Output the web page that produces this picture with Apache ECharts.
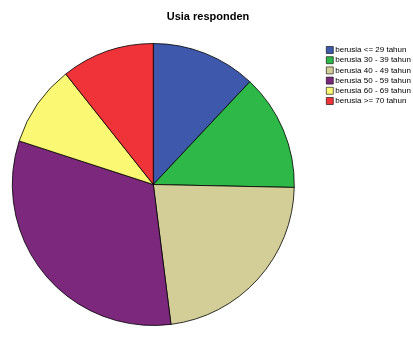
<!DOCTYPE html>
<html><head><meta charset="utf-8">
<script src="https://cdn.jsdelivr.net/npm/echarts@6/dist/echarts.min.js"></script>
<style>html,body{margin:0;padding:0;background:#fff}#c{width:413px;height:338px}</style>
</head><body><div id="c"></div>
<script>
var categories = ['berusia <= 29 tahun','berusia 30 - 39 tahun','berusia 40 - 49 tahun','berusia 50 - 59 tahun','berusia 60 - 69 tahun','berusia >= 70 tahun'];
var values = [9, 10, 17, 24, 7, 8];
var colors = ['#3E58AC','#2EB848','#D3CE97','#7C287D','#FBF873','#EF3338'];
var chart = echarts.init(document.getElementById('c'), null, {renderer:'canvas'});
chart.setOption({
  animation:false,
  title:{text:'Usia responden', left:203, top:6, padding:[5,5,5,5], textAlign:'center',
    textStyle:{fontFamily:'Liberation Sans, Arial', fontSize:11, fontWeight:'bold', color:'#000'}},
  legend:{orient:'vertical', left:326, top:46, padding:0, itemWidth:7, itemHeight:7, itemGap:2.2,
    icon:'rect', data:categories,
    textStyle:{fontFamily:'Liberation Sans, Arial', fontSize:8, color:'#000', lineHeight:8, padding:[0,0,0,-3]},
    itemStyle:{borderColor:'#000', borderWidth:0.6}},
  series:[{type:'pie', center:[153.3,184.5], radius:[0,141], startAngle:90, clockwise:true,
    label:{show:false}, labelLine:{show:false}, emphasis:{disabled:true},
    itemStyle:{borderColor:'#000', borderWidth:0.8},
    data:categories.map(function(c,i){return {name:c, value:values[i], itemStyle:{color:colors[i]}};})
  }]
});
</script></body></html>
